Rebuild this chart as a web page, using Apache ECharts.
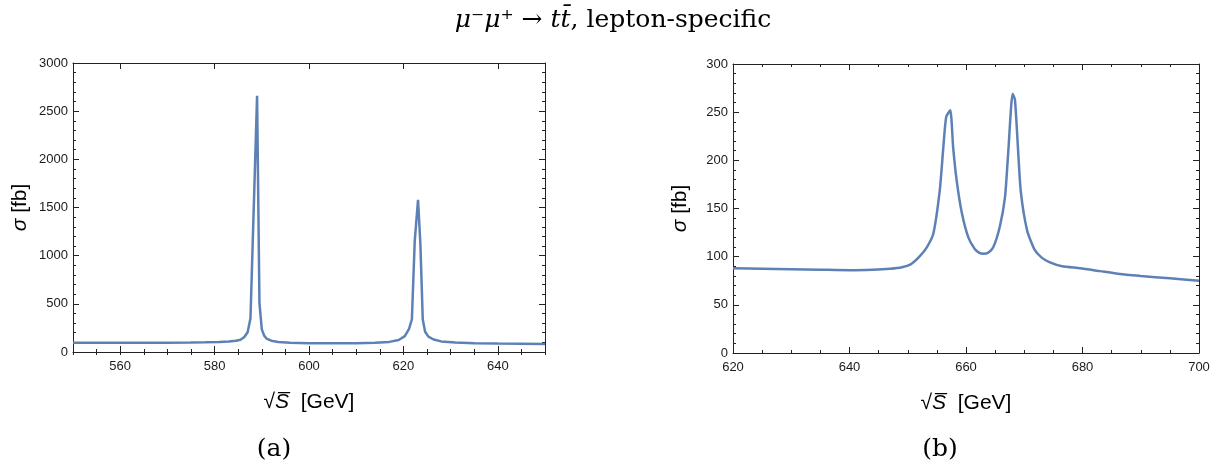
<!DOCTYPE html>
<html>
<head>
<meta charset="utf-8">
<script src="https://cdn.jsdelivr.net/npm/echarts@6/dist/echarts.min.js"></script>
<style>
  html, body { margin: 0; padding: 0; background: #fff; }
  #chart { width: 1226px; height: 473px; }
</style>
</head>
<body>
<div id="chart"></div>
<script>
// (a) cross section vs sqrt(S), 550-650 GeV
const sqrtS_a = [550, 555, 560, 565, 570, 575, 578, 581, 583, 584.5, 585.5, 586.3, 587, 587.6, 589, 589.5, 590, 590.5, 591, 592, 593.5, 596, 600, 605, 610, 614, 617, 619, 620.3, 621.2, 621.8, 622.4, 623.1, 623.6, 624.1, 624.6, 625.3, 626.4, 628, 631, 635, 640, 645, 650];
const sigma_a = [96, 96, 96, 96, 97, 98, 100, 104, 108, 116, 128, 155, 205, 350, 2660, 510, 235, 170, 140, 117, 104, 96, 92, 90, 91, 95, 105, 125, 165, 240, 340, 1150, 1580, 1120, 340, 210, 160, 130, 110, 98, 91, 88, 86, 84];

// (b) cross section vs sqrt(S), 620-700 GeV
const sqrtS_b = [620, 625, 630, 635, 640, 644, 647, 649, 650.5, 652, 653.3, 654.4, 655.5, 656.1, 656.6, 657.3, 657.8, 658.4, 659.3, 660.4, 661.5, 662.3, 663, 663.8, 664.7, 665.8, 666.7, 667.3, 668, 668.4, 668.9, 669.4, 670.5, 671.8, 673, 674.4, 676.5, 679.6, 683, 686.4, 690, 695, 700];
const sigma_b = [88, 87.5, 87, 86.5, 86, 86.5, 87.5, 89, 92, 100, 110, 124, 169, 213, 245, 252, 213, 179, 145, 120, 108, 104, 103, 104, 110, 131, 162, 213, 269, 263, 215, 168, 127, 107, 99, 94, 90, 88, 85, 82, 80, 77.5, 75];

// major tick labels of panel (a) x axis
const xTicks_a = [560, 580, 600, 620, 640];

const pairs = (xs, ys) => xs.map((x, i) => [x, ys[i]]);

const FRAME = '#222';
const LABEL = '#1a1a1a';
const LINE = '#5E81B5';
const SANS = '"Liberation Sans", Arial, sans-serif';
const SERIF = '"DejaVu Serif", serif';

const labelStyle = { color: LABEL, fontSize: 13, fontFamily: SANS, formatter: v => String(v) };
const xName = '√{s|S\u0305}  [GeV]';
const yName = '{s|σ} [fb]';
const nameStyle = {
  color: '#000', fontSize: 21, fontFamily: SANS,
  rich: { s: { fontSize: 21, fontFamily: SANS, fontStyle: 'italic', color: '#000' } }
};

function frameAxisX(grid, pos, min, max, labels) {
  return {
    type: 'value', gridIndex: grid, position: pos, min: min, max: max, interval: 20,
    axisLine: { show: true, onZero: false, lineStyle: { color: FRAME, width: 1 } },
    axisTick: { show: true, inside: true, length: 6, lineStyle: { color: FRAME } },
    minorTick: { show: true, splitNumber: 4, length: 3, lineStyle: { color: FRAME } },
    axisLabel: labels ? Object.assign({ margin: 8 }, labelStyle) : { show: false },
    splitLine: { show: false },
    name: labels ? xName : '', nameLocation: 'middle', nameGap: 40, nameTextStyle: nameStyle
  };
}
function frameAxisY(grid, pos, max, interval, labels) {
  return {
    type: 'value', gridIndex: grid, position: pos, min: 0, max: max, interval: interval,
    axisLine: { show: true, onZero: false, lineStyle: { color: FRAME, width: 1 } },
    axisTick: { show: true, inside: true, length: 6, lineStyle: { color: FRAME } },
    minorTick: { show: true, splitNumber: 5, length: 3, lineStyle: { color: FRAME } },
    axisLabel: labels ? Object.assign({ margin: 5 }, labelStyle) : { show: false },
    splitLine: { show: false },
    name: labels ? yName : '', nameLocation: 'middle', nameGap: 42, nameRotate: 90, nameTextStyle: nameStyle
  };
}
// panel (a) x axis: labelled majors every 20 from 560, minors every 5 from 550
function majorAxisA(pos, labels) {
  return {
    type: 'value', gridIndex: 0, position: pos, min: 550, max: 650,
    axisLine: { show: true, onZero: false, lineStyle: { color: FRAME, width: 1 } },
    axisTick: { show: true, inside: true, length: 6, customValues: xTicks_a, lineStyle: { color: FRAME } },
    axisLabel: labels ? Object.assign({ margin: 8, customValues: xTicks_a }, labelStyle) : { show: false },
    splitLine: { show: false },
    name: labels ? xName : '', nameLocation: 'middle', nameGap: 40, nameTextStyle: nameStyle
  };
}
function minorAxisA(pos) {
  return {
    type: 'value', gridIndex: 0, position: pos, min: 550, max: 650, interval: 5,
    axisLine: { show: false },
    axisTick: { show: true, inside: true, length: 3, lineStyle: { color: FRAME } },
    axisLabel: { show: false },
    splitLine: { show: false }
  };
}

const option = {
  backgroundColor: '#fff',
  animation: false,
  title: {
    text: '{i|μ}⁻{i|μ}⁺ → {i|tt̄}, lepton-specific',
    left: 'center', top: 3,
    textStyle: {
      fontFamily: SERIF, fontSize: 25, fontWeight: 'normal', color: '#000',
      rich: { i: { fontFamily: SERIF, fontSize: 25, fontStyle: 'italic', color: '#000' } }
    }
  },
  graphic: [
    { type: 'text', x: 274, y: 449, style: { text: '(a)', font: '25px ' + SERIF, fill: '#000', align: 'center', verticalAlign: 'middle' } },
    { type: 'text', x: 940, y: 449, style: { text: '(b)', font: '25px ' + SERIF, fill: '#000', align: 'center', verticalAlign: 'middle' } }
  ],
  grid: [
    { left: 73, top: 63, width: 472, height: 289 },
    { left: 733, top: 64, width: 466, height: 289 }
  ],
  xAxis: [
    majorAxisA('bottom', true),
    minorAxisA('bottom'),
    majorAxisA('top', false),
    minorAxisA('top'),
    frameAxisX(1, 'bottom', 620, 700, true),
    frameAxisX(1, 'top', 620, 700, false)
  ],
  yAxis: [
    frameAxisY(0, 'left', 3000, 500, true),
    frameAxisY(0, 'right', 3000, 500, false),
    frameAxisY(1, 'left', 300, 50, true),
    frameAxisY(1, 'right', 300, 50, false)
  ],
  series: [
    {
      type: 'line', xAxisIndex: 0, yAxisIndex: 0, data: pairs(sqrtS_a, sigma_a),
      showSymbol: false, clip: true, lineStyle: { color: LINE, width: 2.5 }
    },
    {
      type: 'line', xAxisIndex: 4, yAxisIndex: 2, data: pairs(sqrtS_b, sigma_b),
      showSymbol: false, clip: true, smooth: 0.2,
      lineStyle: { color: LINE, width: 2.5 }
    }
  ]
};

echarts.init(document.getElementById('chart'), null, { renderer: 'canvas' }).setOption(option);
</script>
</body>
</html>
